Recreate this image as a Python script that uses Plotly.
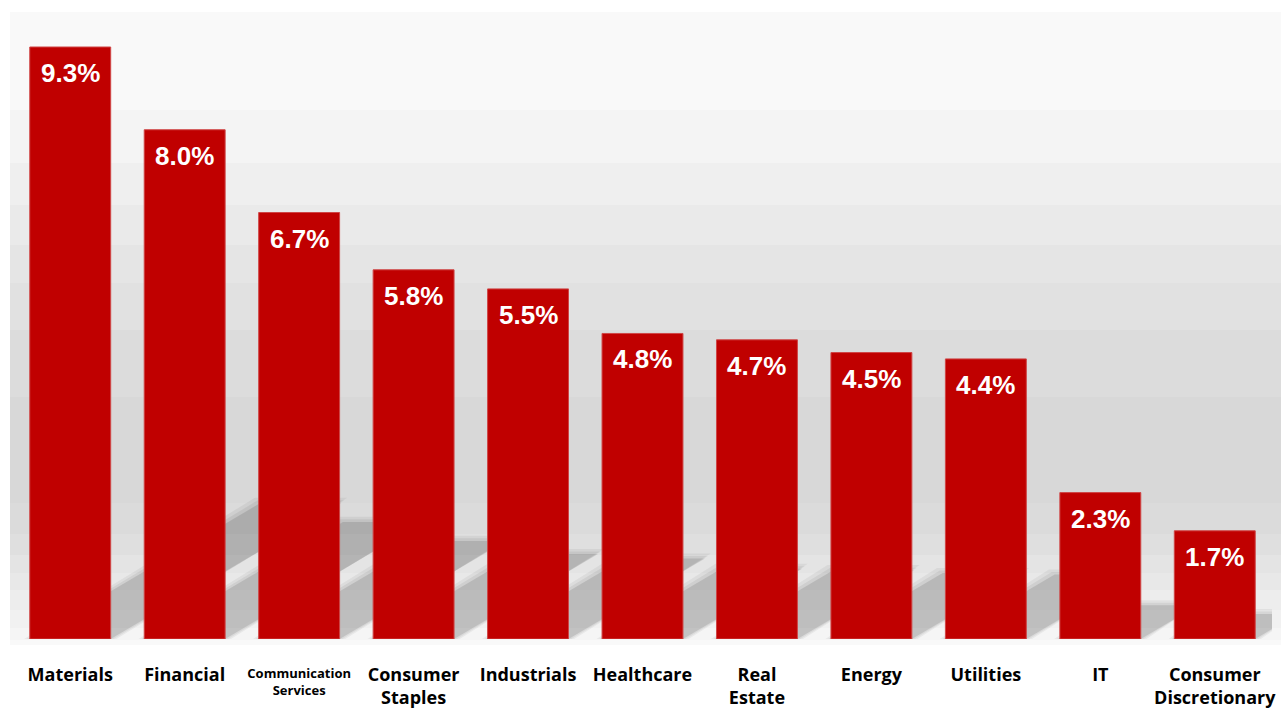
import plotly.graph_objects as go

categories = ["Materials", "Financial", "Communication Services", "Consumer Staples",
              "Industrials", "Healthcare", "Real Estate", "Energy", "Utilities", "IT",
              "Consumer Discretionary"]
tick_labels = ["Materials", "Financial", "Communication<br>Services",
               "Consumer<br>Staples", "Industrials", "Healthcare", "Real<br>Estate", "Energy",
               "Utilities", "IT", "Consumer<br>Discretionary"]
small_label_index = [2]  # label drawn in a smaller font
values = [9.3, 8.0, 6.7, 5.8, 5.5, 4.8, 4.7, 4.5, 4.4, 2.3, 1.7]
value_labels = [f"{v:.1f}%" for v in values]

RED = "#C00000"
W, H = 1285, 709
ML, MR, MT, MB = 13, 13, 12, 70
PW, PH = W - ML - MR, H - MT - MB
BAR_W = 0.707
YMAX = 9.85

# background gradient bands (pixel rows -> paper coords)
bands = [(12, 110, "#f9f9f9"), (110, 163, "#f4f4f4"), (163, 205, "#efefef"),
         (205, 245, "#eaeaea"), (245, 283, "#e5e5e5"), (283, 330, "#e1e1e1"),
         (330, 397, "#dcdcdc"), (397, 503, "#d8d8d8"), (503, 534, "#dbdbdb"),
         (534, 555, "#dfdfdf"), (555, 573, "#e4e4e4"), (573, 590, "#e8e8e8"),
         (590, 610, "#ededed"), (610, 628, "#f1f1f1"), (628, 640, "#f5f5f5"),
         (640, 645, "#f9f9f9")]

def py(px):
    return (H - MB - px) / PH

shapes = []
x0p, x1p = (10 - ML) / PW, (1281 - ML) / PW
for top, bot, col in bands:
    shapes.append(dict(type="rect", xref="paper", yref="paper", x0=x0p, x1=x1p,
                       y0=py(bot), y1=py(top), fillcolor=col, line_width=0, layer="below"))

# cast shadows derived from bar values: the bar base slid up and to the right
px_per_cat = PW / len(values)
px_per_val = PH / YMAX
for i, v in enumerate(values):
    hpx = v * px_per_val
    dx = 0.39 * hpx / px_per_cat
    dy = 0.23 * v
    L, R = i - BAR_W / 2, i + BAR_W / 2
    for g, alpha in [(0.05, 0.05), (0.025, 0.06), (0.0, 0.11)]:
        gy = g * 1.6
        path = (f"M {L - g:.4f},0 L {R + g:.4f},0 L {R + dx + g:.4f},{dy + gy:.4f} "
                f"L {L + dx - g:.4f},{dy + gy:.4f} Z")
        shapes.append(dict(type="path", xref="x", yref="y", path=path,
                           fillcolor=f"rgba(0,0,0,{alpha})", line_width=0, layer="below"))

fig = go.Figure(go.Bar(
    x=list(range(len(values))), y=values, width=BAR_W,
    marker=dict(color=RED, line=dict(color="#cf4545", width=1)),
    hovertext=categories, hoverinfo="text+y",
))

annotations = [dict(x=i, y=v, xref="x", yref="y", text=t, showarrow=False,
                    yanchor="top", yshift=-9,
                    font=dict(family="Liberation Sans, Arial", size=26, color="white", weight="bold"))
               for i, (v, t) in enumerate(zip(values, value_labels))]

main_idx = [i for i in range(len(values)) if i not in small_label_index]

fig.update_layout(
    width=W, height=H, margin=dict(l=ML, r=MR, t=MT, b=MB, autoexpand=False),
    paper_bgcolor="white", plot_bgcolor="rgba(0,0,0,0)",
    shapes=shapes, annotations=annotations, showlegend=False,
    xaxis=dict(range=[-0.5, len(values) - 0.5], tickmode="array",
               tickvals=main_idx, ticktext=[tick_labels[i] for i in main_idx],
               showgrid=False, zeroline=False, showline=False, ticks="",
               automargin=False, ticklabelstandoff=23,
               tickfont=dict(family="Open Sans", size=18, color="black", weight="bold")),
    xaxis2=dict(range=[-0.5, len(values) - 0.5], overlaying="x", side="bottom",
                anchor="y", matches="x", tickmode="array",
                tickvals=small_label_index, ticktext=[tick_labels[i] for i in small_label_index],
                showgrid=False, zeroline=False, showline=False, ticks="",
                automargin=False, ticklabelstandoff=25,
                tickfont=dict(family="Open Sans", size=13, color="black", weight="bold")),
    yaxis=dict(range=[0, YMAX], visible=False, showgrid=False, zeroline=False,
               automargin=False),
)
# invisible helper trace so the secondary axis is drawn
fig.add_trace(go.Scatter(x=[0], y=[0], xaxis="x2", mode="markers",
                         marker=dict(opacity=0), hoverinfo="skip", showlegend=False))

fig.write_html("out.html")
